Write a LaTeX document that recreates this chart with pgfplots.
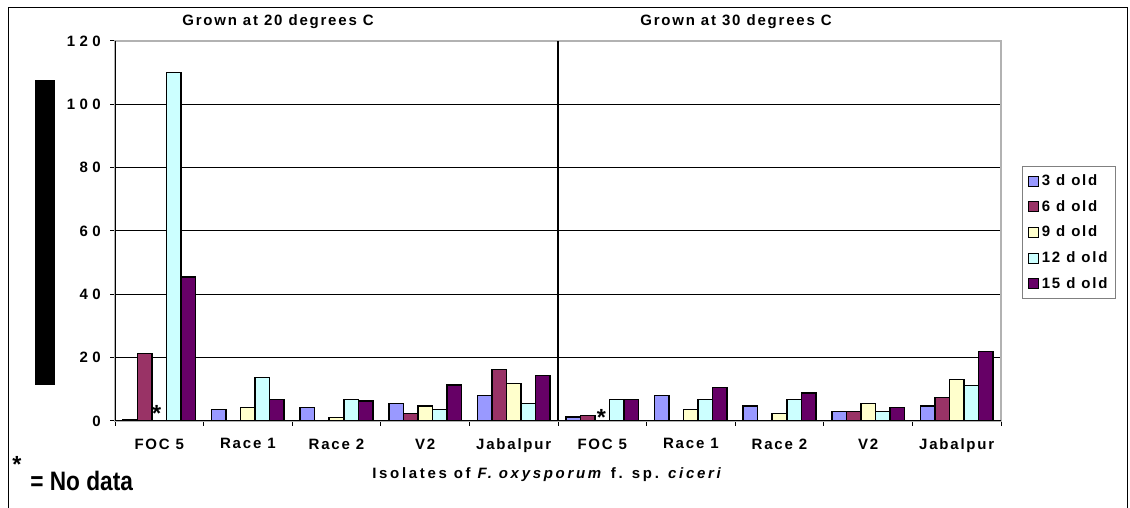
\documentclass[border=0pt]{standalone}
\usepackage{fontspec}
\setmainfont{Liberation Sans}
\newfontfamily\lsA[LetterSpace=12]{Liberation Sans}
\newfontfamily\lsB[LetterSpace=18]{Liberation Sans}
\newfontfamily\lsT[LetterSpace=30]{Liberation Sans}
\newfontfamily\narrowf[FakeStretch=0.85]{Liberation Sans}
\usepackage{pgfplots}
\pgfplotsset{compat=1.18}
\definecolor{cA}{HTML}{9999FF}
\definecolor{cB}{HTML}{993366}
\definecolor{cC}{HTML}{FFFFCC}
\definecolor{cD}{HTML}{CCFFFF}
\definecolor{cE}{HTML}{660066}
\pgfplotsset{mylegend/.style={legend image code/.code={\draw[##1,draw=black,line width=0.6pt] (0pt,-3pt) rectangle (6pt,3pt);}}}
\begin{document}
\begin{tikzpicture}[x=0.6pt,y=0.6pt]
\useasboundingbox (0,0) rectangle (1130,508);
\draw[black,line width=0.6pt] (8,-2) -- (8,500) -- (1127,500) -- (1127,-2);
\fill[black] (35,123) rectangle (55,428);
\begin{axis}[
  at={(69pt,52.2pt)}, anchor=south west, scale only axis,
  width=531.6pt, height=228pt,
  xmin=-0.5, xmax=9.5, ymin=0, ymax=120,
  ybar=0pt, bar width=0.164,
  ytick={0,20,...,120},
  ymajorgrids, grid style={black,line width=0.6pt},
  xtick={0,...,9},
  xticklabels={FOC 5,Race 1,Race 2,V2,Jabalpur,FOC 5,Race 1,Race 2,V2,Jabalpur},
  minor xtick={-0.5,0.5,...,9.5},
  major x tick style={draw=none},
  tick align=outside, xtick pos=bottom, ytick pos=left,
  major tick length=3pt, minor tick length=3pt,
  tick style={black,line width=0.6pt},
  axis line style={draw=gray!60,line width=0.8pt},
  /pgf/number format/assume math mode=true,
  yticklabel style={font=\lsT\bfseries\fontsize{9}{10}\selectfont, xshift=-2pt},
  xticklabel style={font=\lsA\bfseries\fontsize{9}{10}\selectfont, yshift=-4pt},
  legend style={at={(1.0237,0.672)}, anchor=north west, draw=gray, line width=0.6pt,
    font=\lsA\bfseries\fontsize{9}{10}\selectfont, row sep=3.4pt, inner xsep=3pt, inner ysep=3pt},
  legend cell align=left,
]
\addplot[fill=cA, draw=black, line width=0.9pt, mylegend] coordinates {(0,0.5) (1,3.7) (2,4.2) (3,5.5) (4,8.0) (5,1.2) (6,8.0) (7,4.8) (8,3.05) (9,4.8)};
\addplot[fill=cB, draw=black, line width=0.9pt, mylegend] coordinates {(0,21.3) (3,2.3) (4,16.3) (5,1.8) (8,3.05) (9,7.4)};
\addplot[fill=cC, draw=black, line width=0.9pt, mylegend] coordinates {(1,4.2) (2,1.05) (3,4.8) (4,11.9) (6,3.7) (7,2.4) (8,5.6) (9,13.05)};
\addplot[fill=cD, draw=black, line width=0.9pt, mylegend] coordinates {(0,110) (1,13.8) (2,6.8) (3,3.7) (4,5.5) (5,6.8) (6,6.8) (7,6.8) (8,3.05) (9,11.2)};
\addplot[fill=cE, draw=black, line width=0.9pt, mylegend] coordinates {(0,45.4) (1,6.8) (2,6.3) (3,11.4) (4,14.4) (5,6.8) (6,10.5) (7,8.8) (8,4.3) (9,22.0)};
\legend{3 d old,6 d old,9 d old,12 d old,15 d old}
\draw[black,line width=1.2pt] (axis cs:4.5,0) -- (axis cs:4.5,120);
\draw[black,line width=0.8pt] (axis cs:-0.5,120) -- (axis cs:-0.5,0) -- (axis cs:9.5,0);
\node[font=\bfseries\fontsize{14}{14}\selectfont, inner sep=0pt] at (axis cs:-0.03,2.3) {*};
\node[font=\bfseries\fontsize{14}{14}\selectfont, inner sep=0pt] at (axis cs:4.99,1.0) {*};
\end{axis}
\node[font=\lsA\bfseries\fontsize{9}{10}\selectfont] at (278,486) {Grown at 20 degrees C};
\node[font=\lsA\bfseries\fontsize{9}{10}\selectfont] at (736,486) {Grown at 30 degrees C};
\node[font=\lsB\bfseries\fontsize{9}{10}\selectfont] at (548,33) {Isolates of \textit{F. oxysporum} f. sp. \textit{ciceri}};
\node[font=\bfseries\fontsize{14}{14}\selectfont, inner sep=0pt] at (17,44) {*};
\node[font=\narrowf\bfseries\fontsize{16}{16}\selectfont, anchor=base west, inner sep=0pt] at (30,17) {= No data};
\end{tikzpicture}
\end{document}
